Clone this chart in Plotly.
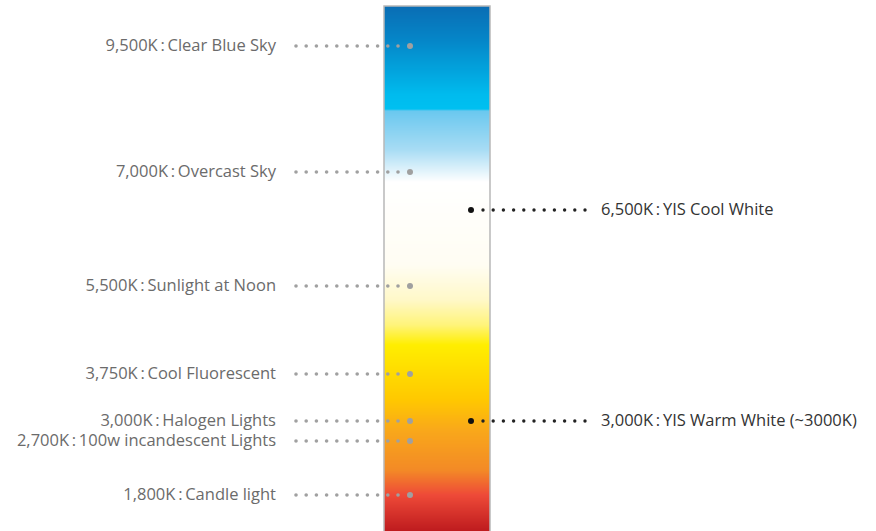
import numpy as np
import plotly.graph_objects as go

# ---- data ----
left_labels = ["9,500K\u2009:\u2009Clear Blue Sky", "7,000K\u2009:\u2009Overcast Sky",
               "5,500K\u2009:\u2009Sunlight at Noon", "3,750K\u2009:\u2009Cool Fluorescent",
               "3,000K\u2009:\u2009Halogen Lights", "2,700K\u2009:\u2009100w incandescent Lights",
               "1,800K\u2009:\u2009Candle light"]
left_y = [46, 172, 286, 374, 421, 441, 495]
right_labels = ["6,500K\u2009:\u2009YIS Cool White", "3,000K\u2009:\u2009YIS Warm White (~3000K)"]
right_y = [210, 421]

# gradient stops (position along bar, colour)
grad_pos = [6, 40, 95, 109, 111, 150, 182, 265, 300, 325, 345, 400, 430, 470, 495, 531]
grad_col = ["#0a6db4", "#0586c8", "#00bbee", "#00c0f0", "#6ac8ef", "#a8dcf4", "#ffffff",
            "#fffdf3", "#fff8c8", "#fff47a", "#ffee00", "#ffc800", "#f9a81a", "#f38a26",
            "#ee4a38", "#be1b1e"]

W, H = 876, 531
BAR_X0, BAR_X1 = 384, 490

fig = go.Figure()

# gradient bar (x and y given as cell edges)
edges = np.arange(grad_pos[0], H + 2, 1.0)
centers = (edges[:-1] + edges[1:]) / 2
lo, hi = grad_pos[0], grad_pos[-1]
cs = [[(p - lo) / (hi - lo), c] for p, c in zip(grad_pos, grad_col)]
fig.add_trace(go.Heatmap(x=[BAR_X0, BAR_X1], y=edges, z=[[v] for v in centers],
                         colorscale=cs, zmin=lo, zmax=hi, showscale=False,
                         hoverinfo="skip"))
fig.add_shape(type="rect", x0=BAR_X0, x1=BAR_X1, y0=grad_pos[0], y1=H + 5,
              line=dict(color="#b8b8b8", width=1.5), layer="above")

# left leader dots
sx, sy, bx, by = [], [], [], []
small_left = np.linspace(296, 398, 11)
for y in left_y:
    sx += list(small_left); sy += [y] * len(small_left)
    bx.append(410); by.append(y)
fig.add_trace(go.Scatter(x=sx, y=sy, mode="markers", hoverinfo="skip",
                         marker=dict(size=3.6, color="#a0a0a0")))
fig.add_trace(go.Scatter(x=bx, y=by, mode="markers", hoverinfo="skip",
                         marker=dict(size=6, color="#a0a0a0")))
fig.add_trace(go.Scatter(x=[276] * len(left_y), y=[v + 1 for v in left_y], mode="text",
                         text=left_labels, textposition="middle left", hoverinfo="skip",
                         textfont=dict(family="Open Sans", size=16.5, color="#6b6b6b")))

# right leader dots
rx, ry = [], []
small_right = np.linspace(483, 585, 11)
for y in right_y:
    rx += list(small_right); ry += [y] * len(small_right)
fig.add_trace(go.Scatter(x=rx, y=ry, mode="markers", hoverinfo="skip",
                         marker=dict(size=3.4, color="#222222")))
fig.add_trace(go.Scatter(x=[471] * len(right_y), y=right_y, mode="markers", hoverinfo="skip",
                         marker=dict(size=6, color="#111111")))
fig.add_trace(go.Scatter(x=[601] * len(right_y), y=[v + 1 for v in right_y], mode="text",
                         text=right_labels, textposition="middle right", hoverinfo="skip",
                         textfont=dict(family="Open Sans", size=16.5, color="#333333")))

fig.update_layout(width=W, height=H, margin=dict(l=0, r=0, t=0, b=0),
                  paper_bgcolor="white", plot_bgcolor="white", showlegend=False,
                  xaxis=dict(range=[0, W], visible=False, fixedrange=True),
                  yaxis=dict(range=[H, 0], visible=False, fixedrange=True))
fig.write_html("out.html", config={"displayModeBar": False},
               post_script="document.body.style.margin='0';document.body.style.overflow='hidden';")
